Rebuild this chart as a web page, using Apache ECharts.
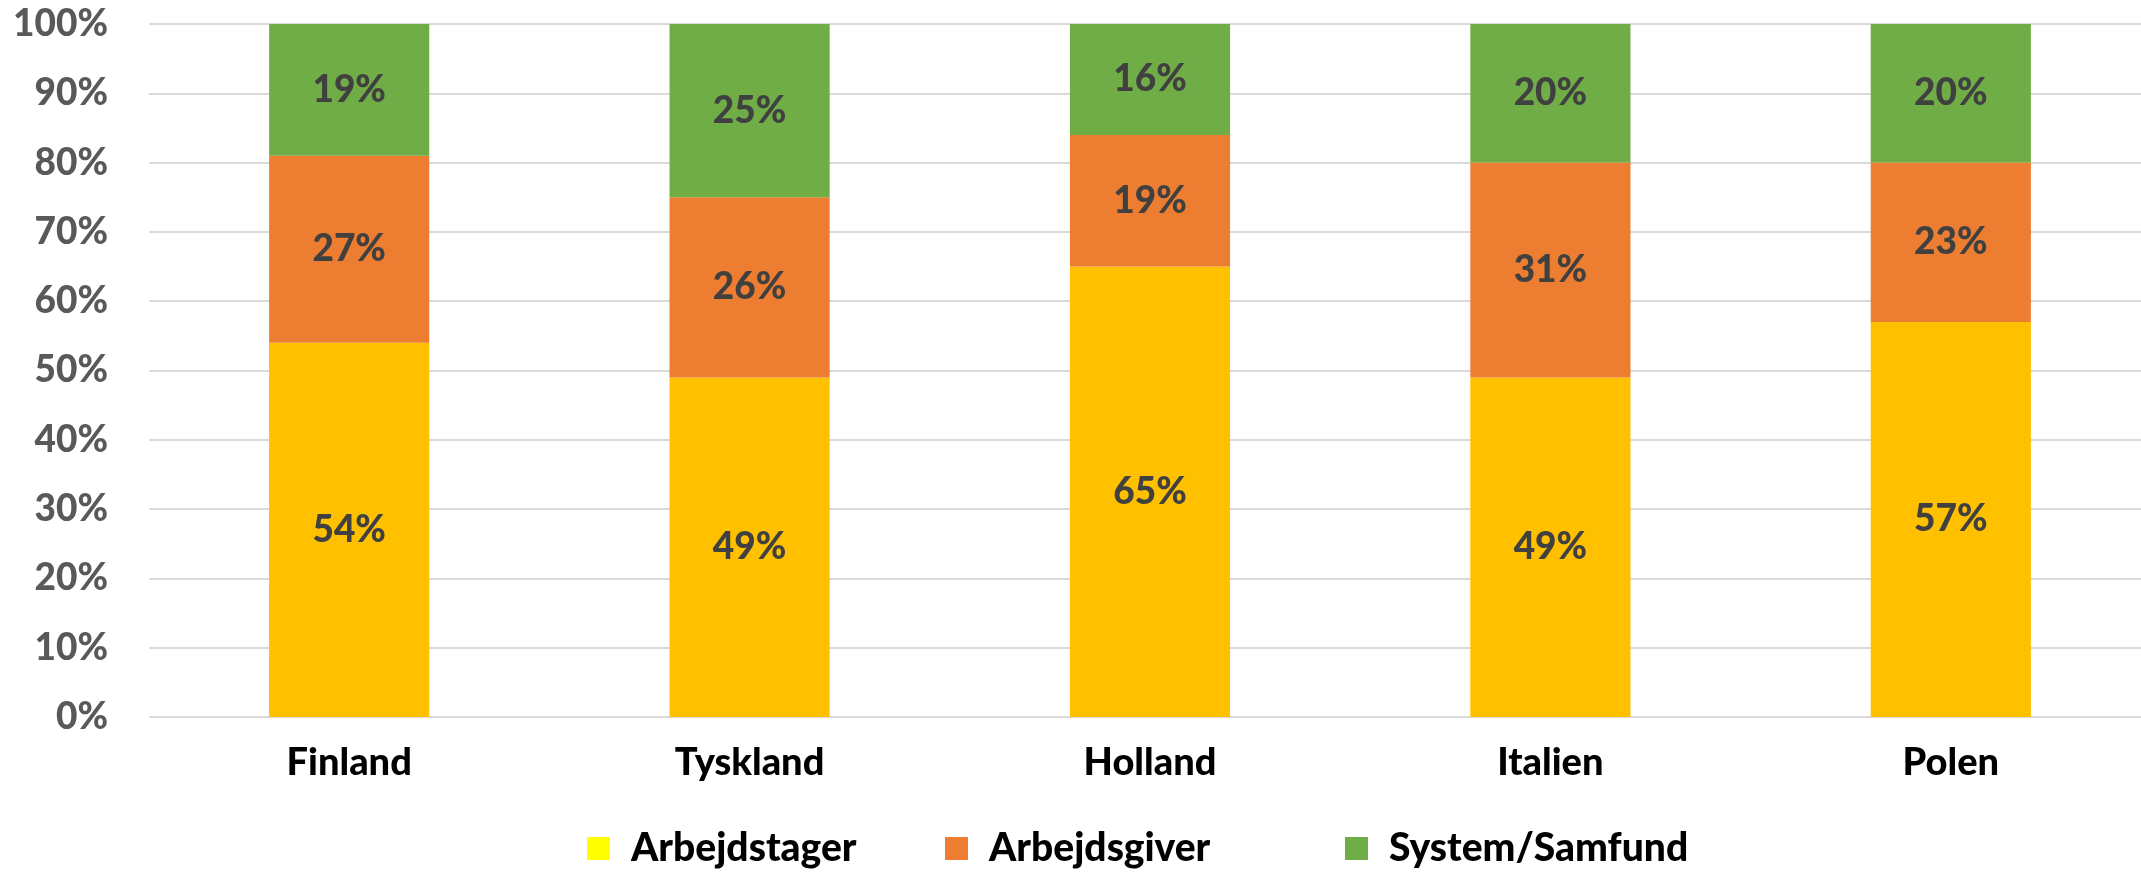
<!DOCTYPE html>
<html><head><meta charset="utf-8">
<script src="https://cdn.jsdelivr.net/npm/echarts@6/dist/echarts.min.js"></script>
<style>html,body{margin:0;padding:0;background:#fff}#c{width:2141px;height:873px}</style>
</head><body><div id="c"></div>
<script>
const categories = ['Finland', 'Tyskland', 'Holland', 'Italien', 'Polen'];
const arbejdstager = [54, 49, 65, 49, 57];
const arbejdsgiver = [27, 26, 19, 31, 23];
const systemSamfund = [19, 25, 16, 20, 20];
const seriesNames = ['Arbejdstager', 'Arbejdsgiver', 'System/Samfund'];
const barColors = ['#FFC000', '#ED7D31', '#70AD47'];
const legendColors = ['#FFFF00', '#ED7D31', '#70AD47'];

const FONT = 'Lato';
const W = 900;
const chart = echarts.init(document.getElementById('c'), null, {renderer: 'canvas'});
const label = {
  show: true, position: 'inside', color: '#404040', fontFamily: FONT,
  fontWeight: W, fontSize: 37, formatter: '{c}%'
};
const mk = (name, data, i) => ({
  name, type: 'bar', stack: 'total', data, barWidth: '40%',
  itemStyle: {color: barColors[i]}, label, emphasis: {disabled: true}
});
const legendLeft = [587, 945, 1345];
chart.setOption({
  animation: false,
  grid: {left: 149, width: 2002, top: 24, bottom: 156, containLabel: false, outerBoundsMode: 'none'},
  legend: seriesNames.map((n, i) => ({
    data: [{name: n, itemStyle: {color: legendColors[i]}}],
    left: legendLeft[i], top: 823, itemWidth: 23, itemHeight: 23, padding: 0,
    icon: 'rect', selectedMode: false,
    textStyle: {fontFamily: FONT, fontWeight: W, fontSize: 39, lineHeight: 46, color: '#000', padding: [5, 0, 0, 16]}
  })),
  xAxis: {
    type: 'category', data: categories,
    axisLine: {show: false}, axisTick: {show: false},
    axisLabel: {fontFamily: FONT, fontWeight: W, fontSize: 38, color: '#000', margin: 27}
  },
  yAxis: {
    type: 'value', min: 0, max: 100, interval: 10,
    axisLine: {show: false}, axisTick: {show: false},
    splitLine: {lineStyle: {color: '#D9D9D9', width: 2}},
    axisLabel: {fontFamily: FONT, fontWeight: W, fontSize: 37, color: '#595959', margin: 41, formatter: '{value}%'}
  },
  series: [mk(seriesNames[0], arbejdstager, 0), mk(seriesNames[1], arbejdsgiver, 1), mk(seriesNames[2], systemSamfund, 2)]
});
</script></body></html>
